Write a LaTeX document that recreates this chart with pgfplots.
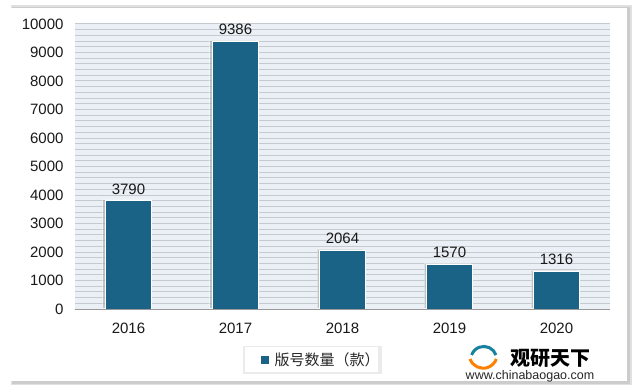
\documentclass[border=0pt]{standalone}
\usepackage{pgfplots}
\pgfplotsset{compat=1.18}
\usepackage{fontspec}
\setmainfont{Liberation Sans}
\newfontfamily\cjk{Noto Sans CJK SC}
\usetikzlibrary{shadows}
\definecolor{barblue}{HTML}{1B6386}
\definecolor{bgblue}{HTML}{EAF0F6}
\definecolor{gridgray}{HTML}{C5CACF}
\begin{document}
\begin{tikzpicture}[x=1pt,y=1pt]
\fill[white] (0,0) rectangle (635,389);
\fill[black!12] (11,4) rectangle (632,384);
\fill[black!20] (12,5) rectangle (630,382);
\fill[white] (9,8) rectangle (627,381);
\begin{axis}[
  at={(75pt,80pt)}, anchor=south west,
  scale only axis, width=535pt, height=285pt,
  xmin=-0.5, xmax=4.5, ymin=0, ymax=10000,
  axis background/.style={fill=bgblue},
  axis line style={draw=none},
  xtick={0,1,2,3,4},
  xticklabels={2016,2017,2018,2019,2020},
  ytick={0,1000,...,10000},
  scaled y ticks=false,
  minor y tick num=4,
  ymajorgrids, yminorgrids,
  major grid style={gridgray, line width=1pt},
  minor grid style={gridgray, line width=1pt},
  tick style={draw=none},
  /pgf/number format/assume math mode=true,
  /pgf/number format/.cd, 1000 sep={}, /pgfplots/.cd,
  tick label style={font=\fontsize{15}{17}\selectfont, text=black!90},
  yticklabel style={xshift=-8pt},
  xticklabel style={yshift=-6pt},
  ybar, bar width=46pt,
  nodes near coords,
  nodes near coords style={font=\fontsize{15}{17}\selectfont, text=black!90, yshift=3pt},
  clip=false,
]
\addplot[fill=barblue, draw=white, line width=1pt,
  drop shadow={shadow xshift=-2.5pt, shadow yshift=1pt, fill=black!40}]
  coordinates {(0,3790) (1,9386) (2,2064) (3,1570) (4,1316)};
\draw[gray!80, line width=1pt] (axis cs:-0.5,0) -- (axis cs:4.5,0);
\end{axis}
% legend
\fill[black!8] (243,15) rectangle (382,43);
\fill[white] (245,17) rectangle (378,42);
\fill[barblue] (261,25) rectangle (269,33);
\node[anchor=west, font=\cjk\fontsize{15}{17}\selectfont, text=black!85] at (271,29.5) {版号数量（款）};
% watermark
\draw[orange, line width=3pt] (470,30) arc (200:340:14);
\draw[barblue!80!cyan, line width=3pt] (496,34) arc (20:160:13);
\node[font=\cjk\bfseries\fontsize{20}{22}\selectfont] at (550,31) {观研天下};
\node[font=\fontsize{12.5}{14}\selectfont, text=black!85] at (530,13) {www.chinabaogao.com};
\end{tikzpicture}
\end{document}
